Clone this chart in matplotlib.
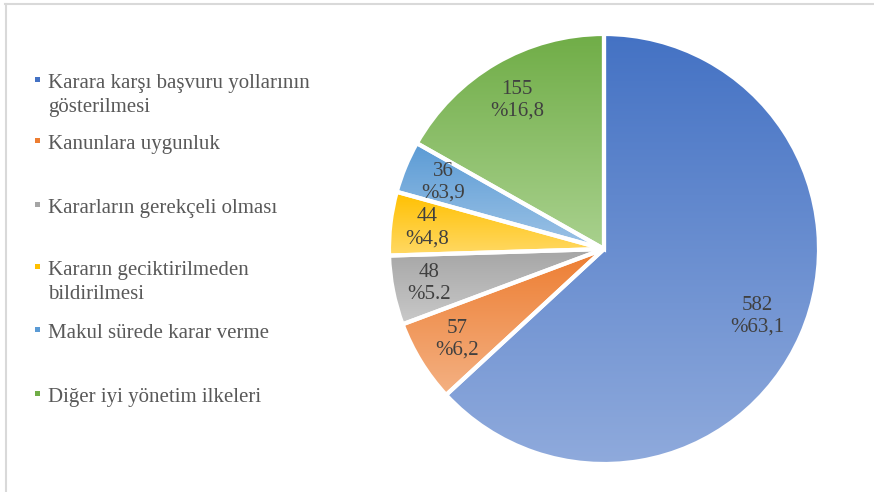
import matplotlib
matplotlib.use('Agg')

import numpy as np
import matplotlib.pyplot as plt
from matplotlib.colors import to_rgb
from matplotlib.lines import Line2D
from matplotlib.patches import Rectangle

plt.rcParams['font.family'] = ['Liberation Serif', 'DejaVu Serif']

#************************* data *************************
labels = ['Karara karşı başvuru yollarının\ngösterilmesi',
          'Kanunlara uygunluk',
          'Kararların gerekçeli olması',
          'Kararın geciktirilmeden\nbildirilmesi',
          'Makul sürede karar verme',
          'Diğer iyi yönetim ilkeleri']
counts = [582, 57, 48, 44, 36, 155]
pct_txt = ['%63,1', '%6,2', '%5.2', '%4,8', '%3,9', '%16,8']

dark = ['#4472C4', '#ED7D31', '#A5A5A5', '#FFC000', '#5B9BD5', '#70AD47']
light = ['#8FAADC', '#F4B183', '#C9C9C9', '#FFD966', '#9DC3E6', '#A9D18E']
lbl_dist = [0.78, 0.80, 0.83, 0.83, 0.81, 0.80]

W, H = 874, 492
fig = plt.figure(figsize=(W / 100, H / 100), dpi=100)

# pie: center (604,249) px, radius 215 px
cx, cy, r = 604, 249, 215
ax = fig.add_axes([(cx - r) / W, (H - cy - r) / H, 2 * r / W, 2 * r / H])
ax.set_aspect('equal')
ax.axis('off')

wedges, _ = ax.pie(counts, startangle=90, counterclock=False, radius=1,
                   wedgeprops=dict(facecolor='none', edgecolor='white', linewidth=3, zorder=3))

for i, w in enumerate(wedges):
    # vertical gradient inside each slice, darker on top
    ext = w.get_path().get_extents()
    c0 = np.array(to_rgb(light[i]))
    c1 = np.array(to_rgb(dark[i]))
    t = np.linspace(0, 1, 256)[:, None]
    grad = (c0 + (c1 - c0) * t)[:, None, :]
    im = ax.imshow(grad, extent=[ext.x0, ext.x1, ext.y0, ext.y1], origin='lower',
                   aspect='auto', zorder=2, interpolation='bilinear')
    im.set_clip_path(w)

    mid = np.deg2rad((w.theta1 + w.theta2) / 2)
    d = lbl_dist[i]
    ax.text(d * np.cos(mid), d * np.sin(mid), '%d\n%s' % (counts[i], pct_txt[i]),
            ha='center', va='center', fontsize=15, color='#404040',
            linespacing=1.2, zorder=5)

ax.set_xlim(-1, 1)
ax.set_ylim(-1, 1)

#************************* legend *************************
baselines = [88, 149, 213, 275, 338, 402]
line_gap = 24
for i, lab in enumerate(labels):
    for j, line in enumerate(lab.split('\n')):
        fig.text(48 / W, 1 - (baselines[i] + j * line_gap) / H, line,
                 ha='left', va='baseline', fontsize=15, color='#595959')
    fig.patches.append(Rectangle((35 / W, 1 - (baselines[i] - 6) / H), 5 / W, 5 / H,
                                 transform=fig.transFigure, facecolor=dark[i],
                                 edgecolor='none'))

# frame lines (top and left)
fig.add_artist(Line2D([5 / W, 1], [1 - 4 / H, 1 - 4 / H], color='#d9d9d9', lw=1.5,
                      transform=fig.transFigure))
fig.add_artist(Line2D([6 / W, 6 / W], [0, 1 - 4 / H], color='#d9d9d9', lw=1.5,
                      transform=fig.transFigure))

fig.savefig('out.png', dpi=100)
